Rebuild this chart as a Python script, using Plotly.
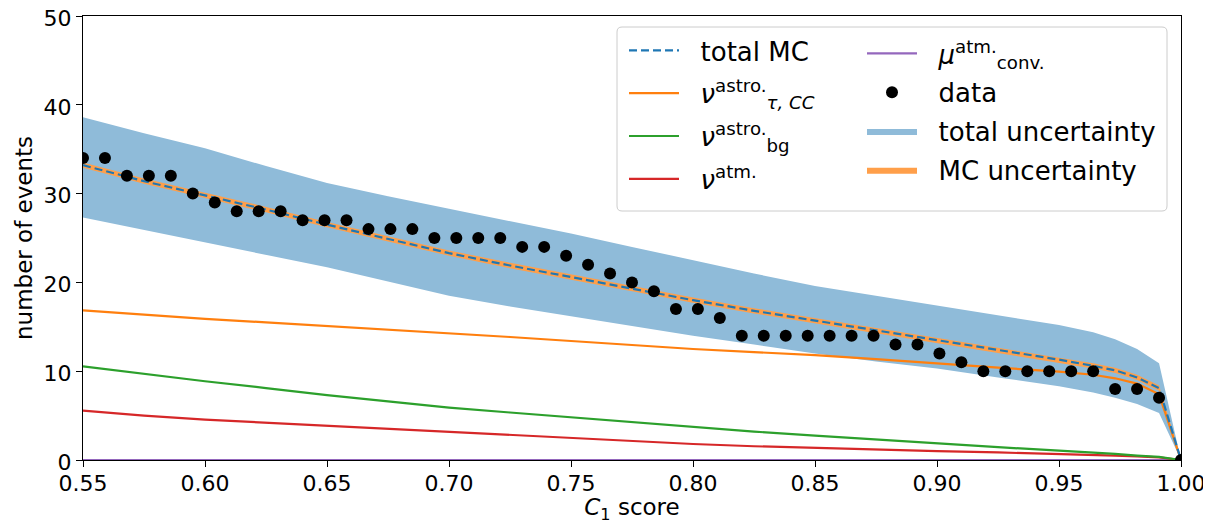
import plotly.graph_objects as go

# ---------------- data ----------------
x_data = [0.55, 0.559, 0.568, 0.577, 0.586, 0.595, 0.604, 0.613, 0.622, 0.631,
          0.64, 0.649, 0.658, 0.667, 0.676, 0.685, 0.694, 0.703, 0.712, 0.721,
          0.73, 0.739, 0.748, 0.757, 0.766, 0.775, 0.784, 0.793, 0.802, 0.811,
          0.82, 0.829, 0.838, 0.847, 0.856, 0.865, 0.874, 0.883, 0.892, 0.901,
          0.91, 0.919, 0.928, 0.937, 0.946, 0.955, 0.964, 0.973, 0.982, 0.991, 1.0]
data_counts = [34, 34, 32, 32, 32, 30, 29, 28, 28, 28,
               27, 27, 27, 26, 26, 26, 25, 25, 25, 25,
               24, 24, 23, 22, 21, 20, 19, 17, 17, 16,
               14, 14, 14, 14, 14, 14, 14, 13, 13, 12,
               11, 10, 10, 10, 10, 10, 10, 8, 8, 7, 0]

x_mc = [0.55, 0.575, 0.60, 0.625, 0.65, 0.675, 0.70, 0.725, 0.75, 0.775, 0.80,
        0.825, 0.85, 0.875, 0.90, 0.925, 0.95, 0.964, 0.973, 0.982, 0.991, 1.0]
total_mc = [33.2, 31.4, 29.8, 28.2, 26.5, 24.9, 23.3, 21.9, 20.6, 19.3, 18.0,
            16.8, 15.7, 14.6, 13.5, 12.4, 11.3, 10.6, 10.1, 9.3, 8.1, 0.0]
nu_tau_astro = [16.85, 16.35, 15.9, 15.5, 15.1, 14.7, 14.3, 13.85, 13.4, 12.95, 12.5,
                12.15, 11.8, 11.35, 10.85, 10.4, 9.95, 9.6, 9.2, 8.6, 7.4, 0.0]
nu_bg_astro = [10.55, 9.7, 8.87, 8.1, 7.3, 6.6, 5.9, 5.35, 4.8, 4.25, 3.7,
               3.2, 2.75, 2.3, 1.85, 1.45, 1.05, 0.85, 0.7, 0.5, 0.35, 0.0]
nu_atm = [5.55, 5.0, 4.55, 4.2, 3.85, 3.5, 3.2, 2.8, 2.45, 2.1, 1.8,
          1.55, 1.35, 1.2, 1.0, 0.85, 0.7, 0.6, 0.5, 0.4, 0.3, 0.0]
mu_conv = [0.0, 0.0, 0.0, 0.0, 0.0, 0.0, 0.0, 0.0, 0.0, 0.0, 0.0,
           0.0, 0.0, 0.0, 0.0, 0.0, 0.0, 0.0, 0.0, 0.0, 0.0, 0.0]
total_unc_hi = [38.6, 36.8, 35.1, 33.1, 31.2, 29.7, 28.3, 26.9, 25.5, 24.0, 22.5,
                21.0, 19.6, 18.5, 17.4, 16.3, 15.2, 14.4, 13.6, 12.5, 10.9, 0.0]
total_unc_lo = [27.3, 25.9, 24.5, 23.1, 21.7, 20.1, 18.5, 17.3, 16.2, 15.1, 14.0,
                13.0, 12.0, 11.1, 10.3, 9.3, 8.3, 7.6, 7.0, 6.3, 5.3, 0.0]
mc_unc_hi = [33.5, 31.7, 30.1, 28.5, 26.8, 25.2, 23.6, 22.2, 20.9, 19.6, 18.3,
             17.1, 16.0, 14.9, 13.8, 12.7, 11.6, 10.9, 10.4, 9.6, 8.4, 0.0]
mc_unc_lo = [32.9, 31.1, 29.5, 27.9, 26.2, 24.6, 23.0, 21.6, 20.3, 19.0, 17.7,
             16.5, 15.4, 14.3, 13.2, 12.1, 11.0, 10.3, 9.8, 9.0, 7.8, 0.0]

x_ticks = [0.55, 0.60, 0.65, 0.70, 0.75, 0.80, 0.85, 0.90, 0.95, 1.00]
x_tick_labels = ["0.55", "0.60", "0.65", "0.70", "0.75", "0.80", "0.85", "0.90", "0.95", "1.00"]
y_ticks = [0, 10, 20, 30, 40, 50]

# ---------------- figure ----------------
FONT = "DejaVu Sans"
LW = 2.2
SP = "\u00a0\u00a0"  # gap between legend symbol and label
fig = go.Figure()

# total uncertainty band
fig.add_trace(go.Scatter(x=x_mc, y=total_unc_lo, mode="lines", line=dict(width=0),
                         showlegend=False, hoverinfo="skip"))
fig.add_trace(go.Scatter(x=x_mc, y=total_unc_hi, mode="lines", line=dict(width=0),
                         fill="tonexty", fillcolor="#8fbbd9",
                         name=SP + "total uncertainty", legend="legend2",
                         legendgroup="tu", legendrank=3))
# MC uncertainty band
fig.add_trace(go.Scatter(x=x_mc, y=mc_unc_lo, mode="lines", line=dict(width=0),
                         showlegend=False, hoverinfo="skip"))
fig.add_trace(go.Scatter(x=x_mc, y=mc_unc_hi, mode="lines", line=dict(width=0),
                         fill="tonexty", fillcolor="#ff9f4a",
                         name=SP + "MC uncertainty", legend="legend2",
                         legendgroup="mu", legendrank=4))

# components
fig.add_trace(go.Scatter(x=x_mc, y=mu_conv, mode="lines", line=dict(color="#9467bd", width=LW),
                         name=SP + "<i>μ</i><sup>atm.</sup><sub>conv.</sub>",
                         legend="legend2", legendgroup="mc", legendrank=1))
fig.add_trace(go.Scatter(x=x_mc, y=nu_atm, mode="lines", line=dict(color="#d62728", width=LW),
                         name=SP + "<i>ν</i><sup>atm.</sup>", legend="legend",
                         legendgroup="na", legendrank=4))
fig.add_trace(go.Scatter(x=x_mc, y=nu_bg_astro, mode="lines", line=dict(color="#2ca02c", width=LW),
                         name=SP + "<i>ν</i><sup>astro.</sup><sub>bg</sub>", legend="legend",
                         legendgroup="nb", legendrank=3))
fig.add_trace(go.Scatter(x=x_mc, y=nu_tau_astro, mode="lines", line=dict(color="#ff7f0e", width=LW),
                         name=SP + "<i>ν</i><sup>astro.</sup><sub><i>τ, CC</i></sub>",
                         legend="legend", legendgroup="nt", legendrank=2))
fig.add_trace(go.Scatter(x=x_mc, y=total_mc, mode="lines",
                         line=dict(color="#1f77b4", width=LW, dash="8px,4px"),
                         name=SP + "total MC", legend="legend", legendgroup="tm", legendrank=1))
# data
fig.add_trace(go.Scatter(x=x_data, y=data_counts, mode="markers",
                         marker=dict(color="black", size=12),
                         name=SP + "data", legend="legend2", legendgroup="dt", legendrank=2))

# geometry: the page body adds an 8 px offset, so the figure is 8 px smaller
OFF = 8
W, H = 1211 - OFF, 524 - OFF
# plot area in absolute page pixels
PX0, PX1, PY0, PY1 = 83, 1181, 16, 460
L, R, T, B = PX0 - OFF, 1211 - PX1, PY0 - OFF, 524 - PY1
pw, ph = PX1 - PX0, PY1 - PY0

def px2paper_x(px):
    return (px - PX0) / pw

def px2paper_y(py):
    return 1 - (py - PY0) / ph

# rounded legend frame
x0, x1 = px2paper_x(617), px2paper_x(1167)
y0, y1 = px2paper_y(211), px2paper_y(27)
rx, ry = 5 / pw, 5 / ph
path = (f"M{x0+rx},{y1} L{x1-rx},{y1} Q{x1},{y1} {x1},{y1-ry} "
        f"L{x1},{y0+ry} Q{x1},{y0} {x1-rx},{y0} L{x0+rx},{y0} "
        f"Q{x0},{y0} {x0},{y0+ry} L{x0},{y1-ry} Q{x0},{y1} {x0+rx},{y1} Z")

legend_common = dict(font=dict(family=FONT, size=26, color="black"),
                     bgcolor="rgba(0,0,0,0)", borderwidth=0,
                     itemwidth=50, yanchor="top", xanchor="left",
                     traceorder="grouped")

fig.update_layout(
    width=W, height=H,
    margin=dict(l=L, r=R, t=T, b=B, autoexpand=False),
    paper_bgcolor="white", plot_bgcolor="white",
    font=dict(family=FONT, size=22, color="black"),
    shapes=[dict(type="path", path=path, xref="paper", yref="paper",
                 fillcolor="rgba(255,255,255,0.8)",
                 line=dict(color="#cccccc", width=1), layer="above")],
    legend=dict(x=px2paper_x(624), y=px2paper_y(27), tracegroupgap=6, **legend_common),
    legend2=dict(x=px2paper_x(862), y=px2paper_y(30), tracegroupgap=2, **legend_common),
    xaxis=dict(range=[0.55, 1.0], tickvals=x_ticks, ticktext=x_tick_labels,
               showline=True, linecolor="black", linewidth=1.3, mirror=True,
               ticks="outside", ticklen=6, tickwidth=1.3, tickcolor="black",
               showgrid=False, zeroline=False, automargin=True,
               ticklabeloverflow="allow", ticklabelstandoff=-3,
               tickfont=dict(family=FONT, size=22),
               title=dict(text="<i>C</i><sub>1</sub> score",
                          font=dict(family=FONT, size=23), standoff=9)),
    yaxis=dict(range=[0, 50], tickvals=y_ticks,
               showline=True, linecolor="black", linewidth=1.3, mirror=True,
               ticks="outside", ticklen=6, tickwidth=1.3, tickcolor="black",
               showgrid=False, zeroline=False, automargin=False,
               ticklabeloverflow="allow", ticklabelshift=2,
               tickfont=dict(family=FONT, size=22),
               title=dict(text="number of events",
                          font=dict(family=FONT, size=23), standoff=4)),
)

fig.write_html("out.html")
